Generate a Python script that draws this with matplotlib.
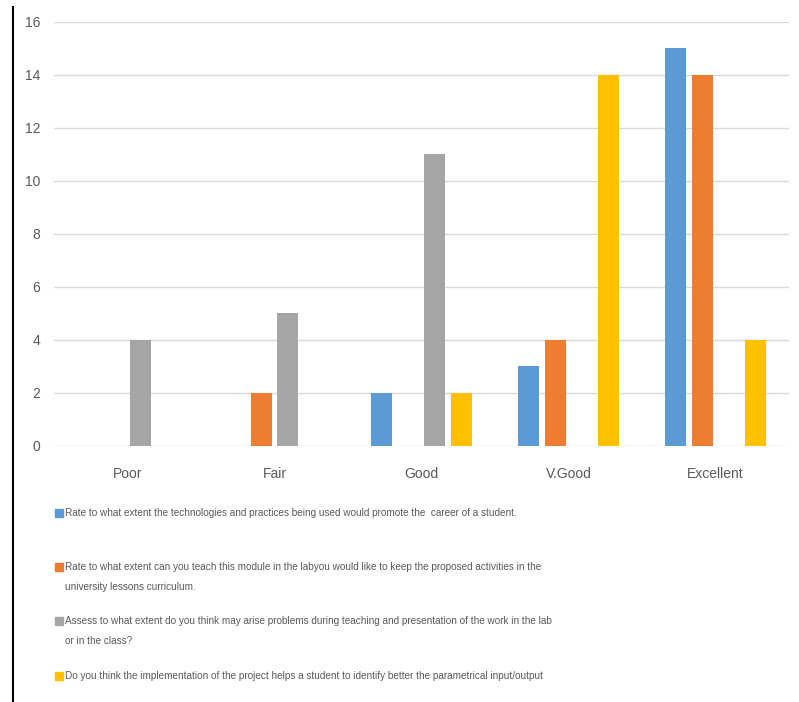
import numpy as np
import matplotlib
matplotlib.use('Agg')
import matplotlib.pyplot as plt
from matplotlib.patches import Rectangle
from matplotlib.lines import Line2D

plt.rcParams['font.family'] = ['Liberation Sans', 'DejaVu Sans']

categories = ['Poor', 'Fair', 'Good', 'V.Good', 'Excellent']
promote_career = [0, 0, 2, 3, 15]
teach_in_lab = [0, 2, 0, 4, 14]
problems = [4, 5, 11, 0, 0]
identify_io = [0, 0, 2, 14, 4]

series = [promote_career, teach_in_lab, problems, identify_io]
colors = ['#5b9bd5', '#ed7d31', '#a5a5a5', '#ffc000']
labels = [
    'Rate to what extent the technologies and practices being used would promote the  career of a student.',
    'Rate to what extent can you teach this module in the labyou would like to keep the proposed activities in the\nuniversity lessons curriculum.',
    'Assess to what extent do you think may arise problems during teaching and presentation of the work in the lab\nor in the class?',
    'Do you think the implementation of the project helps a student to identify better the parametrical input/output',
]

fig = plt.figure(figsize=(7.99, 7.02), dpi=100)
ax = fig.add_axes([0.0676, 0.3647, 0.92, 0.6040])

x = np.arange(len(categories))
step = 0.181
width = 0.143
for i, vals in enumerate(series):
    ax.bar(x + (i - 1.5) * step, vals, width, color=colors[i], zorder=3)

ax.set_xlim(-0.5, len(categories) - 0.5)
ax.set_ylim(0, 16)
ax.set_yticks(range(0, 17, 2))
ax.set_xticks(x)
ax.set_xticklabels(categories)
ax.grid(axis='y', color='#d9d9d9', linewidth=1, zorder=0)
for s in ['top', 'right', 'left', 'bottom']:
    ax.spines[s].set_visible(False)
ax.tick_params(length=0, labelsize=10, colors='#595959')
ax.tick_params(axis='y', pad=10)
ax.tick_params(axis='x', pad=15)

# legend entries below the plot
ys = [513, 567, 621, 676]
for i, lab in enumerate(labels):
    yy = 1 - ys[i] / 702
    fig.patches.append(Rectangle((55 / 799, yy - 4 / 702), 8 / 799, 8 / 702,
                                 transform=fig.transFigure, color=colors[i]))
    fig.text(65 / 799, yy + 5 / 702, lab, fontsize=7.2, color='#595959',
             va='top', ha='left', linespacing=2.3)

fig.lines.append(Line2D([13 / 799, 13 / 799], [0, 1 - 7 / 702], transform=fig.transFigure,
                        color='black', linewidth=1.5))

fig.savefig('out.png', dpi=100)
